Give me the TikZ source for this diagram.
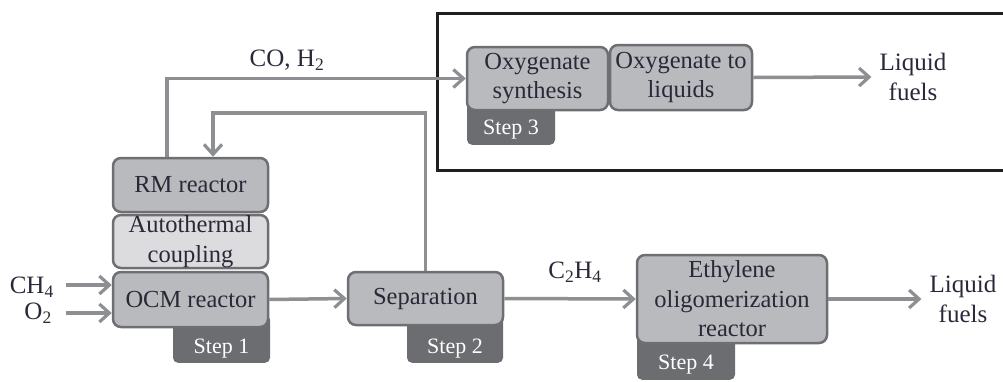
\documentclass[tikz,border=0pt]{standalone}
\usepackage{fontspec}
\setmainfont{Liberation Serif}
\usetikzlibrary{arrows.meta,calc}
\definecolor{boxfill}{HTML}{B9BABD}
\definecolor{boxlight}{HTML}{DCDCDE}
\definecolor{boxline}{HTML}{6E6F72}
\definecolor{tabfill}{HTML}{6C6D70}
\definecolor{flowcol}{HTML}{8E8F92}
\definecolor{ink}{HTML}{2A2838}
\tikzset{
  unit/.style={draw=boxline, line width=2.5pt, fill=boxfill, rounded corners=8pt,
    align=center, text=ink, font=\fontsize{24.5}{29.5}\selectfont, inner sep=0pt},
  % the tab reaches up behind its unit box; the fixed text height puts the
  % label in the middle of the part that shows
  tab/.style={fill=tabfill, rounded corners=5pt, text=white,
    font=\fontsize{22}{25}\selectfont, inner sep=0pt,
    text height=29.6pt, text depth=0pt},
  flow/.style={draw=flowcol, line width=3.5pt,
    -{Straight Barb[length=10pt,width=18pt,line width=3.2pt]}},
  lbl/.style={text=ink, font=\fontsize{25}{29.5}\selectfont, align=center, inner sep=0pt}
}
\begin{document}
\begin{tikzpicture}[x=1pt,y=-1pt]
\useasboundingbox (0,0) rectangle (1003,381);

% frame around the oxygenate route (open on the right)
\draw[line width=3pt, color=black!88] (1004,13) -- (437,13) -- (437,170) -- (1004,170);

% step tabs, drawn first so the unit boxes sit on top of them
\node[tab, minimum width=97pt, minimum height=48pt, anchor=south] (t1) at (221.5,363) {Step 1};
\node[tab, minimum width=96pt, minimum height=48pt, anchor=south] (t2) at (455,363) {Step 2};
\node[tab, minimum width=88pt, minimum height=50pt, anchor=south] (t3) at (511,145) {Step 3};
\node[tab, minimum width=98pt, minimum height=50pt, anchor=south] (t4) at (686,380) {Step 4};

% unit operations
\node[unit, minimum width=155pt, minimum height=54pt] (rm) at (190.5,185) {RM reactor};
\node[unit, fill=boxlight, minimum width=155pt, minimum height=53pt] (atc) at (190.5,241.5) {Autothermal\\coupling};
\node[unit, minimum width=155pt, minimum height=55pt] (ocm) at (190.5,299.5) {OCM reactor};
\node[unit, minimum width=155pt, minimum height=53pt] (sep) at (425.5,298.5) {Separation};
\node[unit, minimum width=190pt, minimum height=88pt] (eth) at (732,299) {Ethylene\\oligomerization\\reactor};
\node[unit, minimum width=141pt, minimum height=63pt] (oxs) at (537.5,78.5) {Oxygenate\\synthesis};
\node[unit, minimum width=142pt, minimum height=65pt] (oxl) at (681,77.5) {Oxygenate to\\liquids};

% stream labels
\node[lbl, anchor=east] (ch4) at (54,287) {CH\textsubscript{4}};
\node[lbl, anchor=east] (o2) at (52,313) {O\textsubscript{2}};
\node[lbl] (lf1) at (913,77) {Liquid\\fuels};
\node[lbl] (lf2) at (963,299) {Liquid\\fuels};
\node[lbl] (coh) at (287,60) {CO, H\textsubscript{2}};
\node[lbl] (c2h4) at (575,272) {C\textsubscript{2}H\textsubscript{4}};

% feeds
\draw[flow] (66,285) coordinate (fch4) -- (fch4 -| ocm.west);
\draw[flow] (66,313) coordinate (fo2) -- (fo2 -| ocm.west);

% syngas from the RM reactor to oxygenate synthesis
\coordinate (synout) at ($(rm.north west)+(55,0)$);
\draw[flow] (synout) |- (oxs.west);

% recycle from separation back to the RM reactor
\coordinate (rcy) at (213,113);
\draw[flow] (sep.north) |- (rcy) -- (rcy |- rm.north);

% main line
\draw[flow] (ocm.east) -- (sep.west);
\draw[flow] (sep.east) -- (eth.west);
\draw[flow] (eth.east) -- ([xshift=-8pt]lf2.west);
\draw[flow] (oxl.east) -- ([xshift=-8pt]lf1.west);
\end{tikzpicture}
\end{document}
